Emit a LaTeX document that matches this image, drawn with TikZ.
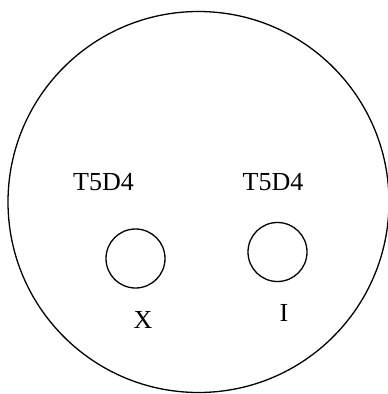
\documentclass[tikz,border=0pt]{standalone}
\usepackage{fontspec}
\setmainfont{Liberation Serif}
\usetikzlibrary{positioning}

\tikzset{
  hole/.style={draw, circle, line width=1.3pt, minimum size=59pt, inner sep=0pt},
  tag/.style={font=\fontsize{26}{30}\selectfont, inner sep=0pt, anchor=base}
}

\begin{document}
\begin{tikzpicture}[x=1pt, y=-1pt]
    \useasboundingbox (0,0) rectangle (388,394);
    % Outer plate
    \node[draw, circle, line width=1.3pt, minimum size=381pt, inner sep=0pt] (plate) at (198.5,202) {};

    % Wells
    \node[hole] (wellx) at (135.5,258.5) {};
    \node[hole] (welli) at (277.5,252) {};

    % Labels
    \node[tag] (topx) at (103.5,190) {T5D4};
    \node[tag] (topi) at (273,190) {T5D4};
    \node[tag] (labx) at (143,328) {X};
    \node[tag] (labi) at (284,321) {I};
\end{tikzpicture}
\end{document}
